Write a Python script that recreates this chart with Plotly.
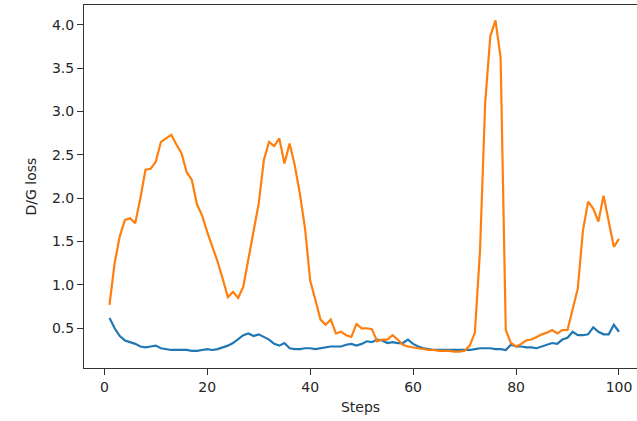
import plotly.graph_objects as go

steps = list(range(1, 101))

d_loss = [0.62, 0.50, 0.41, 0.36, 0.34, 0.32, 0.29, 0.28, 0.29, 0.30,
          0.27, 0.26, 0.25, 0.25, 0.25, 0.25, 0.24, 0.24, 0.25, 0.26,
          0.25, 0.26, 0.28, 0.30, 0.33, 0.38, 0.42, 0.44, 0.41, 0.43,
          0.40, 0.37, 0.32, 0.30, 0.33, 0.27, 0.26, 0.26, 0.27, 0.27,
          0.26, 0.27, 0.28, 0.29, 0.29, 0.29, 0.31, 0.32, 0.30, 0.32,
          0.35, 0.34, 0.37, 0.36, 0.33, 0.34, 0.33, 0.33, 0.37, 0.32,
          0.29, 0.27, 0.26, 0.25, 0.25, 0.25, 0.25, 0.25, 0.25, 0.25,
          0.25, 0.26, 0.27, 0.27, 0.27, 0.26, 0.26, 0.25, 0.31, 0.29,
          0.29, 0.28, 0.28, 0.27, 0.29, 0.31, 0.33, 0.32, 0.37, 0.39,
          0.46, 0.42, 0.42, 0.43, 0.51, 0.46, 0.43, 0.43, 0.54, 0.46]

g_loss = [0.77, 1.25, 1.56, 1.75, 1.77, 1.71, 2.00, 2.33, 2.34, 2.42,
          2.65, 2.69, 2.73, 2.62, 2.52, 2.30, 2.21, 1.93, 1.80, 1.61,
          1.45, 1.27, 1.07, 0.86, 0.92, 0.85, 0.98, 1.29, 1.60, 1.94,
          2.44, 2.65, 2.60, 2.69, 2.40, 2.63, 2.38, 2.05, 1.65, 1.05,
          0.83, 0.60, 0.54, 0.60, 0.44, 0.46, 0.42, 0.40, 0.55, 0.50,
          0.50, 0.49, 0.35, 0.37, 0.37, 0.42, 0.37, 0.31, 0.29, 0.28,
          0.27, 0.26, 0.25, 0.25, 0.24, 0.24, 0.24, 0.23, 0.23, 0.24,
          0.30, 0.45, 1.40, 3.10, 3.87, 4.05, 3.62, 0.48, 0.33, 0.29,
          0.32, 0.36, 0.37, 0.40, 0.43, 0.45, 0.48, 0.44, 0.48, 0.48,
          0.73, 0.96, 1.63, 1.96, 1.88, 1.73, 2.03, 1.75, 1.44, 1.53]

x_ticks = [0, 20, 40, 60, 80, 100]
y_ticks = [0.5, 1.0, 1.5, 2.0, 2.5, 3.0, 3.5, 4.0]
y_tick_text = ["0.5", "1.0", "1.5", "2.0", "2.5", "3.0", "3.5", "4.0"]

fig = go.Figure()
fig.add_trace(go.Scatter(x=steps, y=d_loss, mode="lines",
                         line=dict(color="#1f77b4", width=2.2), showlegend=False))
fig.add_trace(go.Scatter(x=steps, y=g_loss, mode="lines",
                         line=dict(color="#ff7f0e", width=2.2), showlegend=False))

font = dict(family="DejaVu Sans", size=14, color="#262626")

fig.update_layout(
    width=637, height=421,
    margin=dict(l=84, r=0, t=5, b=53, autoexpand=False),
    paper_bgcolor="white", plot_bgcolor="white",
    font=font,
    hovermode=False,
    xaxis=dict(range=[-3.95, 103.5], tickvals=x_ticks, ticks="outside",
               ticklen=6, tickwidth=1, tickcolor="#333333",
               showline=True, linecolor="#333333", linewidth=1, mirror=True,
               showgrid=False, zeroline=False, automargin=False,
               title=dict(text="Steps", standoff=8, font=font)),
    yaxis=dict(range=[0.042, 4.228], tickvals=y_ticks, ticktext=y_tick_text,
               ticks="outside", ticklen=6, tickwidth=1, tickcolor="#333333",
               showline=True, linecolor="#333333", linewidth=1, mirror=False,
               showgrid=False, zeroline=False, automargin=False,
               title=dict(text="D/G loss", standoff=12, font=font)),
)

fig.write_html(
    "out.html",
    config={"displayModeBar": False, "staticPlot": True},
    post_script="document.body.style.margin='0px';document.body.style.overflow='hidden';",
)
